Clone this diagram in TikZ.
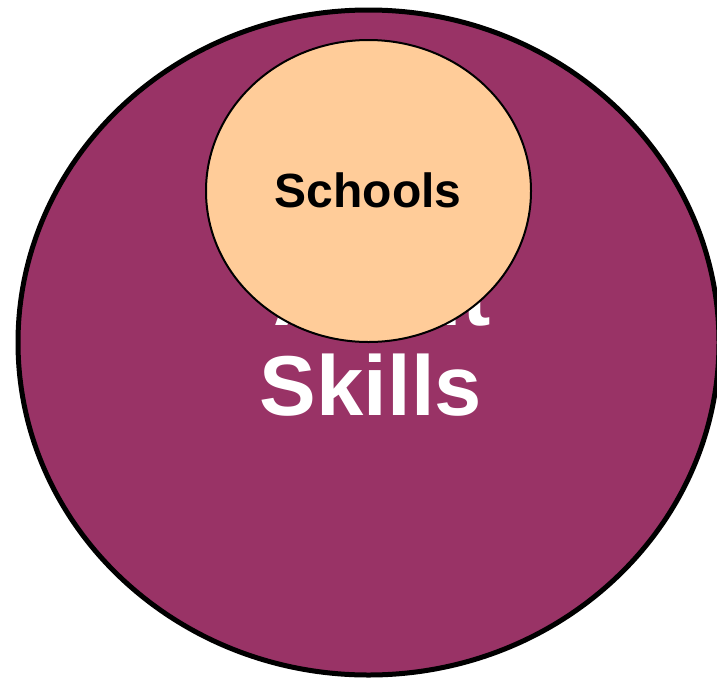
\documentclass[tikz,border=0pt]{standalone}
\usepackage{fontspec}
\setmainfont{Liberation Sans}
\definecolor{plum}{HTML}{993366}
\definecolor{peach}{HTML}{FFCC99}
\begin{document}
\begin{tikzpicture}[x=1pt,y=-1pt,
  bigtext/.style={font=\fontsize{85}{90}\selectfont\bfseries, text=white, inner sep=0pt, anchor=base},
  smalltext/.style={font=\fontsize{48}{52}\selectfont\bfseries, text=black, inner sep=0pt, anchor=base}]
\useasboundingbox (0,0) rectangle (717,678);
\clip (0,0) rectangle (717,678);
\filldraw[fill=plum, draw=black, line width=5pt] (368.5,342.5) ellipse [x radius=350.5, y radius=332.5];
\node[bigtext] (adult) at (382,325) {Adult};
\node[bigtext] (skills) at (371,415) {Skills};
\filldraw[fill=peach, draw=black, line width=2pt] (368.5,191) ellipse [x radius=162.5, y radius=151];
\node[smalltext] (schools) at (368,207) {Schools};
\end{tikzpicture}
\end{document}
